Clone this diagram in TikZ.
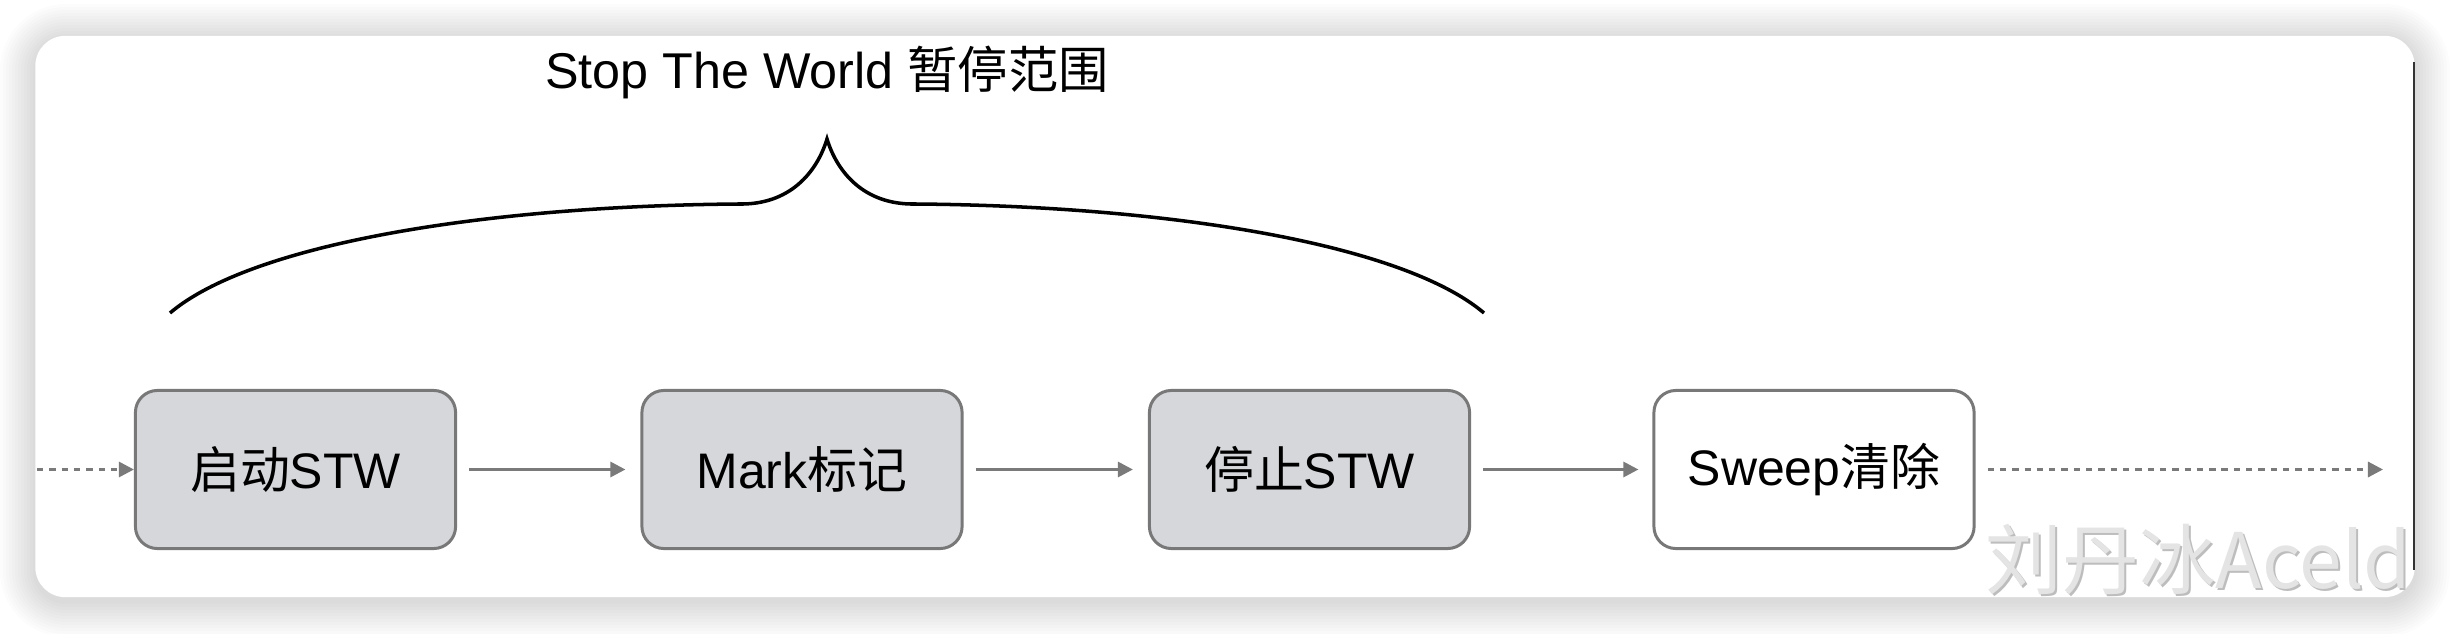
\documentclass[tikz,border=0pt]{standalone}
\usepackage{fontspec}
\setmainfont{Liberation Sans}
\newfontfamily\cjk{Noto Sans CJK SC}
\usetikzlibrary{arrows.meta}
\definecolor{boxfill}{HTML}{D6D7DB}
\definecolor{boxline}{HTML}{787878}
\definecolor{arrowgray}{HTML}{7A7A7A}
\definecolor{wmark}{HTML}{E4E4E4}
\definecolor{wshadow}{HTML}{BDBDBD}
\tikzset{
  stepbox/.style={draw=boxline, fill=boxfill, line width=0.85pt, rounded corners=0.22cm,
    minimum width=3.20cm, minimum height=1.58cm, inner sep=0pt,
    font=\fontsize{14.2pt}{17pt}\selectfont},
  whitebox/.style={stepbox, fill=white},
  flow/.style={draw=arrowgray, line width=0.85pt, -{Triangle[length=4.3pt,width=4.3pt]}},
  dotflow/.style={flow, dash pattern=on 1.8pt off 1.7pt},
  bracepath/.style={draw=black, line width=1pt},
  framebox/.style={fill=white, rounded corners=0.3cm, minimum width=23.78cm, minimum height=5.61cm, inner sep=0pt},
}
\begin{document}
\begin{tikzpicture}[x=0.01cm,y=-0.01cm]
\useasboundingbox (0,0) rectangle (2452,634);
% shadow of the frame
\foreach \i in {1,...,12}{
  \pgfmathsetmacro\rr{0.3+0.03*\i}
  \fill[black, opacity=0.013, rounded corners=\rr cm] (36-3*\i, 40-3*\i) rectangle (2414+3*\i, 601+3*\i);
}
\node[framebox] (frame) at (1225,316.5) {};
\draw[draw=black!80, line width=0.6pt] (2414,62) -- (2414,570);
% title
\node[anchor=base, inner sep=0pt, font=\fontsize{14.3pt}{17pt}\selectfont] (title) at (827,89) {Stop The World {\cjk 暂停范围}};
% brace
\coordinate (brL) at (170,313);
\coordinate (brP) at (827,139);
\coordinate (brR) at (1484,313);
\draw[bracepath] (brL) .. controls (250,245) and (480,206) .. (739,204)
  .. controls (790,205) and (817,172) .. (brP)
  .. controls (837,172) and (864,205) .. (915,204)
  .. controls (1174,206) and (1404,245) .. (brR);
% boxes
\node[stepbox] (b1) at (295.5,469.5) {{\cjk 启动}STW};
\node[stepbox] (b2) at (802,469.5) {Mark{\cjk 标记}};
\node[stepbox] (b3) at (1309.5,469.5) {{\cjk 停止}STW};
\node[whitebox] (b4) at (1814,469.5) {Sweep{\cjk 清除}};
% connectors
\coordinate (in) at (37,469.5);
\coordinate (out) at (2383,469.5);
\draw[dotflow] (in) -- (b1.west);
\draw[flow, shorten <=0.12cm, shorten >=0.15cm] (b1.east) -- (b2.west);
\draw[flow, shorten <=0.12cm, shorten >=0.15cm] (b2.east) -- (b3.west);
\draw[flow, shorten <=0.12cm, shorten >=0.14cm] (b3.east) -- (b4.west);
\draw[dotflow, shorten <=0.12cm] (b4.east) -- (out);
% watermark
\node[anchor=base west, inner sep=0pt, text=wshadow, font=\cjk\fontsize{21.8pt}{24pt}\selectfont] (wms) at (1987,590) {刘丹冰Aceld};
\node[anchor=base west, inner sep=0pt, text=wmark, font=\cjk\fontsize{21.8pt}{24pt}\selectfont] (wm) at (1985,588) {刘丹冰Aceld};
\end{tikzpicture}
\end{document}
